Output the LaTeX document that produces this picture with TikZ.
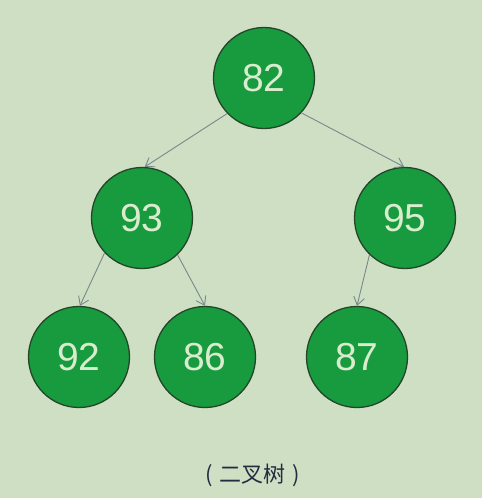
\documentclass[tikz,border=0pt]{standalone}
\usepackage{fontspec}
\setmainfont{Liberation Sans}
\newfontfamily\cjk{Noto Sans CJK SC}
\usetikzlibrary{arrows.meta}
\definecolor{bgc}{RGB}{206,223,196}
\definecolor{nodefill}{RGB}{24,154,62}
\definecolor{nodeline}{RGB}{35,70,40}
\definecolor{numtext}{RGB}{218,236,206}
\definecolor{arrowc}{RGB}{118,138,138}
\definecolor{captc}{RGB}{35,45,65}
\tikzset{
  treenode/.style={circle, draw=nodeline, line width=1.3pt, fill=nodefill,
    minimum size=101pt, inner sep=0pt, text=numtext, font=\fontsize{39}{39}\selectfont},
  edge/.style={draw=arrowc, line width=0.9pt, -{Straight Barb[length=8pt,width=11pt]}}
}
\begin{document}
\begin{tikzpicture}[x=1pt,y=-1pt]
\fill[bgc] (0,0) rectangle (482,498);
\useasboundingbox (0,0) rectangle (482,498);
\node[treenode] (n82) at (264,78) {82};
\node[treenode] (n93) at (142,218) {93};
\node[treenode] (n95) at (405,218) {95};
\node[treenode] (n92) at (79,357) {92};
\node[treenode] (n86) at (205,357) {86};
\node[treenode] (n87) at (357,357) {87};
\draw[edge] (n82.224) -- (n93.87);
\draw[edge] (n82.317) -- (n95.91);
\draw[edge] (n93.223) -- (n92.89);
\draw[edge] (n93.314) -- (n86.90);
\draw[edge] (n95.226) -- (n87.90);
\node[text=captc, font=\cjk\fontsize{22}{22}\selectfont] (cap) at (253,475) {(\hspace{7pt}二叉树\hspace{7pt})};
\end{tikzpicture}
\end{document}
